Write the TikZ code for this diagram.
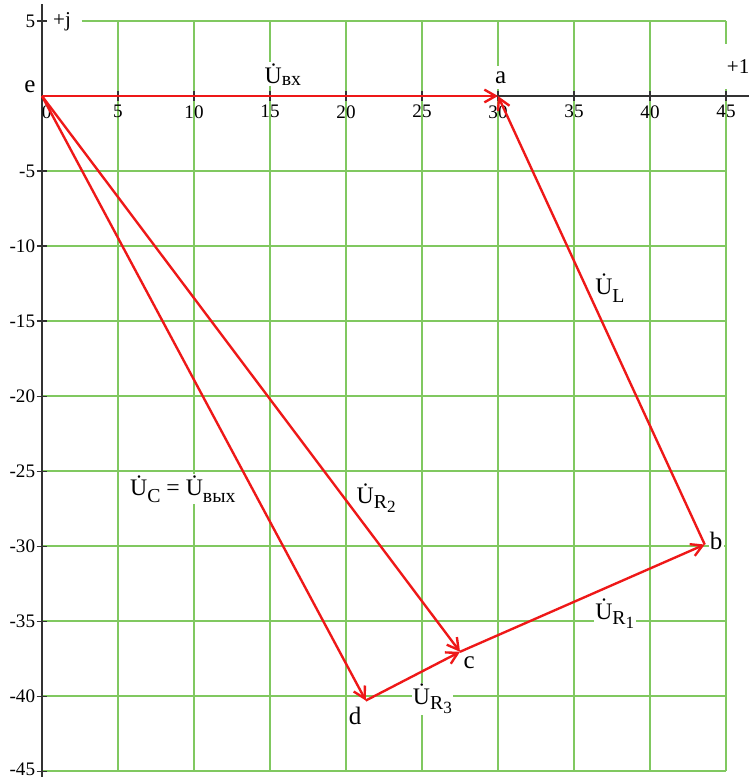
\documentclass[tikz,border=0pt]{standalone}
\usepackage{fontspec}
\setmainfont{Liberation Serif}
\usetikzlibrary{arrows.meta}
\definecolor{gridgreen}{RGB}{128,200,96}
\definecolor{vecred}{RGB}{238,24,24}
% phasor with dot and lowered index
\newcommand{\Uph}[2][-5pt]{\.{U}\raisebox{#1}{\fontsize{15}{15}\selectfont #2}}
\begin{document}
\begin{tikzpicture}[x=0.4053cm, y=0.4cm,
  every node/.style={font=\fontsize{14.5}{14.5}\selectfont},
  gridline/.style={gridgreen, line width=1.1pt},
  axisline/.style={black!80, line width=1.4pt},
  tickmark/.style={black!80, line width=0.8pt},
  vec/.style={vecred, line width=1.8pt, -{Straight Barb[length=3mm,width=3.4mm]}},
  ptlabel/.style={fill=white, inner sep=1pt, font=\fontsize{19}{19}\selectfont},
  vlabel/.style={fill=white, inner sep=1pt, anchor=west, font=\fontsize{18}{18}\selectfont}]
\useasboundingbox (-2.763,-45.53) rectangle (46.51,6.4);
% grid
\foreach \i in {5,10,...,45} \draw[gridline] (\i,5) -- (\i,-45);
\draw[gridline] (2.6,5) -- (45,5);
\foreach \j in {-5,-10,...,-45} \draw[gridline] (0,\j) -- (45,\j);
% axes
\draw[axisline] (0,6.1) -- (0,-45.4);
\draw[axisline] (0,0) -- (46.51,0);
\foreach \i in {5,10,...,45} {
  \draw[tickmark] (\i,0.35) -- (\i,-0.3);
  \node (xt\i) at (\i,-1.05) {\i};
}
\node (xt0) at (0.3,-1.05) {0};
\foreach \j in {5,-5,-10,...,-40} {
  \draw[tickmark] (-0.35,\j) -- (0.33,\j);
  \node[anchor=east, inner sep=1pt] (yt\j) at (-0.35,\j) {\j};
}
\draw[tickmark] (-0.35,-45) -- (0.33,-45);
\node[anchor=east, inner sep=1pt] (yt-45) at (-0.35,-44.85) {-45};
\node[fill=white, inner sep=1pt, font=\fontsize{16}{16}\selectfont] (plusj) at (1.32,4.95) {+j};
\node[fill=white, inner sep=1pt, minimum height=1.2cm, minimum width=0.75cm, font=\fontsize{16}{16}\selectfont] (plus1) at (45.8,1.97) {+1};
% points
\coordinate (e) at (0,0);
\coordinate (a) at (30,0);
\coordinate (b) at (43.6,-29.9);
\coordinate (c) at (27.5,-37.05);
\coordinate (d) at (21.3,-40.3);
\node[ptlabel] (le) at (-0.8,0.65) {e};
\node[ptlabel, minimum height=0.6cm] (la) at (30.18,1.25) {a};
\node[ptlabel] (lb) at (44.35,-29.65) {b};
\node[ptlabel] (lc) at (28.1,-37.8) {c};
\node[ptlabel] (ld) at (20.6,-41.35) {d};
% phasor labels
\node[vlabel] (uin) at (14.55,1.45) {\Uph[-1pt]{вх}};
\node[vlabel] (uL) at (36.3,-12.8) {\Uph[-6pt]{L}};
\node[vlabel] (uC) at (5.7,-26.2) {\Uph[-5pt]{C} = \Uph[-5pt]{вых}};
\node[vlabel] (uR2) at (20.6,-26.8) {\Uph[-4pt]{R\raisebox{-3pt}{\fontsize{13}{13}\selectfont 2}}};
\node[vlabel] (uR1) at (36.3,-34.5) {\Uph[-4pt]{R\raisebox{-3pt}{\fontsize{13}{13}\selectfont 1}}};
\node[vlabel] (uR3) at (24.3,-40.2) {\Uph[-4pt]{R\raisebox{-3pt}{\fontsize{13}{13}\selectfont 3}}};
% vectors
\draw[vec] (e) -- (a);
\draw[vec] (b) -- (a);
\draw[vec] (c) -- (b);
\draw[vec] (e) -- (c);
\draw[vec] (d) -- (c);
\draw[vec] (e) -- (d);
\end{tikzpicture}
\end{document}
